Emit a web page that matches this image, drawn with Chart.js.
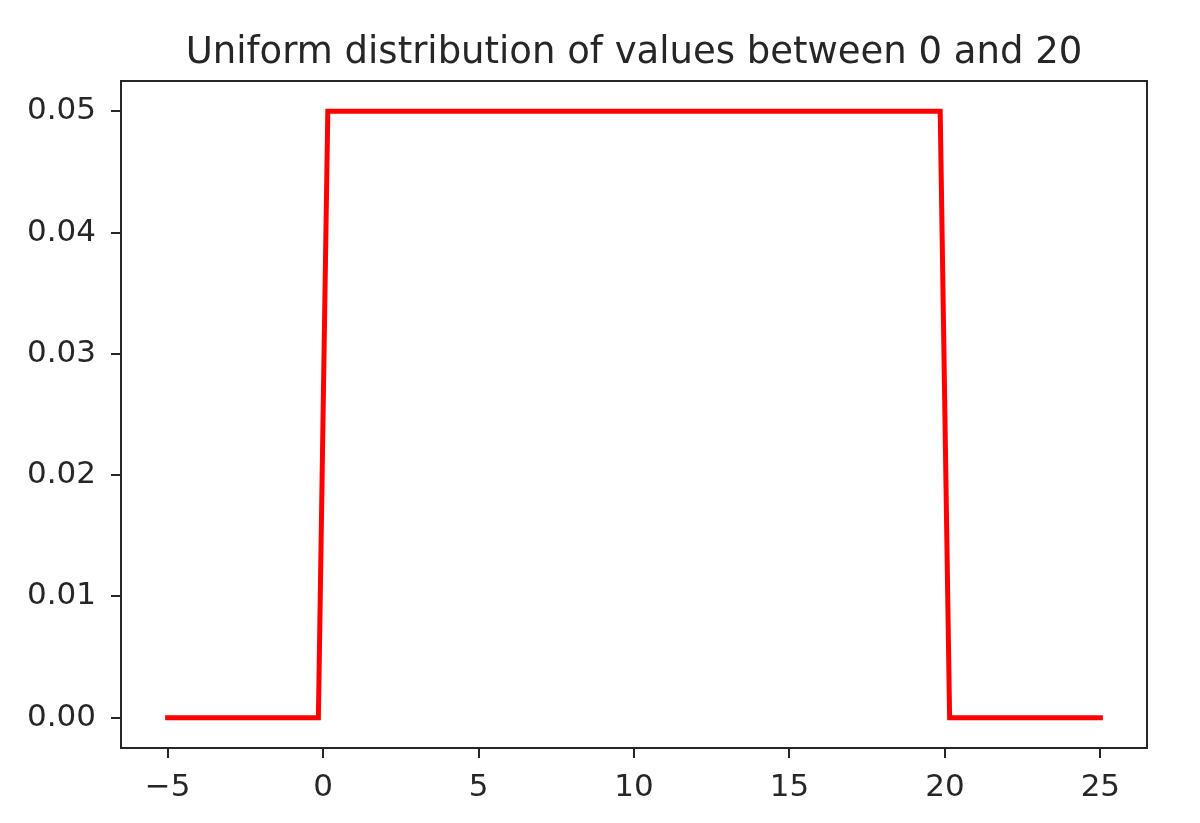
<!DOCTYPE html>
<html><head><meta charset="utf-8">
<script src="https://cdn.jsdelivr.net/npm/chart.js@4"></script>
<style>html,body{margin:0;padding:0;background:#fff}#wrap{width:1200px;height:823px}</style>
</head><body><div id="wrap"><canvas id="c" width="1200" height="823"></canvas></div>
<script>
const chartTitle = "Uniform distribution of values between 0 and 20";
const xValues = [-5, -0.1515, 0.1515, 19.8485, 20.1515, 25];
const yValues = [0, 0, 0.05, 0.05, 0, 0];
const xTickValues = [-5, 0, 5, 10, 15, 20, 25];
const xTickLabels = ["\u22125", "0", "5", "10", "15", "20", "25"];
const yTickValues = [0, 0.01, 0.02, 0.03, 0.04, 0.05];
const yTickLabels = ["0.00", "0.01", "0.02", "0.03", "0.04", "0.05"];

const FONT = "'DejaVu Sans', sans-serif";
const INK = "#262626";
const AREA = {left: 121, top: 81, right: 1147, bottom: 748};

const framePlugin = {
  id: 'frame',
  afterDraw(chart) {
    const a = chart.chartArea, ctx = chart.ctx;
    ctx.save();
    ctx.strokeStyle = INK;
    ctx.lineWidth = 2;
    ctx.strokeRect(a.left, a.top, a.right - a.left, a.bottom - a.top);
    ctx.fillStyle = INK;
    ctx.font = "37px " + FONT;
    ctx.textAlign = 'center';
    ctx.textBaseline = 'alphabetic';
    ctx.fillText(chartTitle, (a.left + a.right) / 2, 63);
    ctx.restore();
  }
};

new Chart(document.getElementById('c'), {
  type: 'scatter',
  data: {
    datasets: [{
      data: xValues.map((x, i) => ({x: x, y: yValues[i]})),
      showLine: true,
      borderColor: '#ff0000',
      borderWidth: 5,
      borderCapStyle: 'square',
      borderJoinStyle: 'miter',
      pointRadius: 0,
      pointHoverRadius: 0,
      tension: 0,
      fill: false
    }]
  },
  options: {
    responsive: false,
    animation: false,
    devicePixelRatio: 1,
    layout: {padding: {left: 0, right: 1200 - AREA.right, top: AREA.top, bottom: 0}},
    plugins: {
      legend: {display: false},
      tooltip: {enabled: false},
      title: {display: false}
    },
    scales: {
      x: {
        type: 'linear',
        min: -6.5,
        max: 26.5,
        afterBuildTicks: s => { s.ticks = xTickValues.map(v => ({value: v})); },
        afterFit: s => { s.height = 823 - AREA.bottom; },
        border: {display: false},
        grid: {drawOnChartArea: false, drawTicks: true, tickLength: 10, color: INK, lineWidth: 2},
        ticks: {
          color: INK,
          font: {family: FONT, size: 31},
          padding: 11,
          maxRotation: 0,
          autoSkip: false,
          callback: (v, i) => xTickLabels[i]
        }
      },
      y: {
        type: 'linear',
        min: -0.0025,
        max: 0.0525,
        afterBuildTicks: s => { s.ticks = yTickValues.map(v => ({value: v})); },
        afterFit: s => { s.width = AREA.left; },
        border: {display: false},
        grid: {drawOnChartArea: false, drawTicks: true, tickLength: 10, color: INK, lineWidth: 2},
        ticks: {
          color: INK,
          font: {family: FONT, size: 31},
          padding: 15,
          autoSkip: false,
          callback: (v, i) => yTickLabels[i]
        }
      }
    }
  },
  plugins: [framePlugin]
});
</script>
</body></html>
